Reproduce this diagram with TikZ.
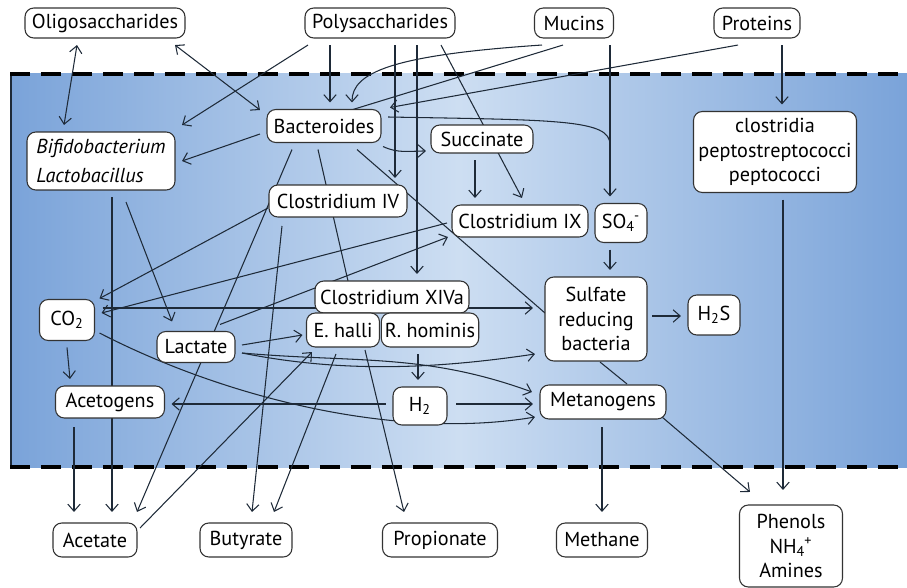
\documentclass[tikz,border=0pt]{standalone}
\usepackage{fontspec}
\setmainfont{PT Sans}
\usetikzlibrary{arrows.meta,calc,positioning}
\definecolor{blueedge}{RGB}{122,163,217}
\definecolor{bluemid}{RGB}{205,222,242}
\definecolor{linecol}{RGB}{30,42,56}
\newcommand{\subsup}[2]{\textsubscript{#1}\kern-0.5pt\textsuperscript{#2}}
\pgfdeclarelayer{back}
\pgfdeclarelayer{lines}
\pgfsetlayers{back,lines,main}
\tikzset{box/.style={draw=black!80, line width=0.6pt, fill=white, rounded corners=5pt,
    inner sep=2pt, outer sep=4pt, align=center, font=\fontsize{11.5}{14}\selectfont},
  sz/.style 2 args={minimum width=#1cm, minimum height=#2cm},
  link/.style={draw=linecol, line width=0.6pt},
  flow/.style={link, -{Straight Barb[length=4pt,width=7pt]}},
  twoway/.style={link, {Straight Barb[length=4pt,width=7pt]}-{Straight Barb[length=4pt,width=7pt]}},
  wall/.style={line width=2pt, dash pattern=on 0.4cm off 0.22cm}}

\begin{document}
\begin{tikzpicture}[x=0.02cm,y=-0.02cm]
    \useasboundingbox (0,0) rectangle (907,588);
    \begin{pgfonlayer}{back}
        \shade[left color=blueedge, right color=blueedge, middle color=bluemid] (10,74) rectangle (907,467);
        \draw[linecol, line width=0.8pt] (11,74) -- (11,467);
        \draw[wall] (10,74) -- (907,74);
        \draw[wall] (10,467) -- (907,467);
    \end{pgfonlayer}

    \node[box, sz={3.2}{0.6}] (oligo) at (105,23) {Oligosaccharides};
    \node[box, sz={3.0}{0.6}] (poly) at (380,23) {Polysaccharides};
    \node[box, sz={1.58}{0.6}] (mucins) at (574,23) {Mucins};
    \node[box, sz={1.72}{0.6}] (proteins) at (757,23) {Proteins};

    \node[box, sz={2.28}{0.66}] (bact) at (324,126) {Bacteroides};
    \node[box, sz={2.96}{1.16}, align=left, font=\fontsize{11.5}{16}\selectfont\itshape] (bifido) at (101,161) {Bifidobacterium\\Lactobacillus};
    \node[box, sz={2.04}{0.56}] (succ) at (482,139) {Succinate};
    \node[box, sz={2.76}{0.64}] (clIV) at (338,201) {Clostridium IV};
    \node[box, sz={2.72}{0.64}] (clIX) at (520,221) {Clostridium IX};
    \node[box, sz={1.04}{0.78}] (so4) at (621,223) {SO\subsup{4}{-}};
    \node[box, sz={3.26}{1.62}] (clostridia) at (775,152) {clostridia\\peptostreptococci\\peptococci};
    \node[box, sz={2.04}{1.68}] (srb) at (596,319) {Sulfate\\reducing\\bacteria};
    \node[box, sz={1.04}{0.8}] (hs) at (714,315) {H\textsubscript{2}S};
    \node[box, sz={3.08}{0.64}] (clXIVa) at (392,297) {Clostridium XIVa};
    \node[box, sz={1.46}{0.68}] (ehalli) at (343,330) {E. halli};
    \node[box, sz={1.92}{0.68}] (rhominis) at (430,330) {R. hominis};
    \node[box, sz={1.08}{0.76}] (htwo) at (420,406) {H\textsubscript{2}};
    \node[box, sz={2.52}{0.68}] (metan) at (603,402) {Metanogens};
    \node[box, sz={1.1}{0.82}] (co) at (67,320) {CO\textsubscript{2}};
    \node[box, sz={1.56}{0.62}] (lactate) at (196,347) {Lactate};
    \node[box, sz={2.18}{0.64}] (acetogens) at (110,402) {Acetogens};

    \node[box, sz={1.68}{0.68}] (acetate) at (95,540) {Acetate};
    \node[box, sz={1.84}{0.68}] (butyrate) at (246,540) {Butyrate};
    \node[box, sz={2.3}{0.68}] (propionate) at (440,540) {Propionate};
    \node[box, sz={1.82}{0.68}] (methane) at (602,540) {Methane};
    \node[box, sz={2.06}{1.64}] (phenols) at (791,546) {Phenols\\NH\subsup{4}{+}\\Amines};

    \begin{pgfonlayer}{lines}
        \draw[twoway] ($(oligo.south)+(-28,0)$) -- ($(bifido.north)+(-37,0)$);
        \draw[twoway] ($(oligo.south east)+(-17,0)$) -- ($(bact.west)+(0,-16)$);
        \draw[flow] ($(poly.south)+(-72,0)$) -- (bifido.north east);
        \draw[flow] ($(poly.south)+(-50,0)$) -- ($(bact.north)+(6,0)$);
        \draw[flow] ($(poly.south)+(15,0)$) -- ($(clIV.north)+(57,0)$);
        \draw[flow] ($(poly.south)+(37,0)$) -- ($(clXIVa.north)+(25,0)$);
        \draw[flow] ($(poly.south)+(61,0)$) -- ($(clIX.north)+(2,0)$);
        \draw[flow] ($(mucins.south)+(-32,0)$) .. controls +(-150,10) and +(0,-30) .. ($(bact.north)+(28,0)$);
        \draw[link] ($(mucins.south)+(-11,0)$) -- ($(bact.north)+(29,7)$);
        \draw[flow] ($(proteins.south)+(-19,0)$) -- ($(bact.north east)+(2,5)$);
        \draw[flow] ($(mucins.south)+(36,0)$) -- ($(so4.north)+(-11,0)$);
        \draw[link] ($(bact.east)+(0,-9)$) .. controls +(170,3) and +(0,-25) .. ($(so4.north)+(-11,-52)$);
        \draw[flow] ($(proteins.south)+(25,0)$) -- ($(clostridia.north)+(7,0)$);
        \draw[flow] ($(bact.west)+(0,8)$) -- (bifido.east);
        \draw[flow] ($(bact.south east)+(-5,-3)$) to[out=-25,in=180] ($(succ.west)+(2,12)$);
        \draw[flow] ($(succ.south)+(-7,0)$) -- ($(clIX.north)+(-45,0)$);
        \draw[flow] ($(bact.south)+(-32,0)$) -- ($(acetate.north)+(42,-4)$);
        \draw[link] ($(bact.south)+(-6,0)$) -- ($(clXIVa.north)+(-44,7)$);
        \draw[link] ($(bact.south)+(33,0)$) -- ($(srb.west)+(7,-6)$);
        \draw[flow] ($(clIV.south)+(-56,2)$) -- ($(butyrate.north)+(6,-4)$);
        \draw[flow] ($(clIV.west)+(6,7)$) -- ($(co.north east)+(-2,6)$);
        \draw[flow] ($(clIX.west)+(2,2)$) -- ($(co.east)+(0,-7)$);
        \draw[flow] ($(lactate.north)+(24,0)$) -- ($(clIX.west)+(3,16)$);
        \draw[flow] ($(co.east)+(1,-12)$) -- ($(srb.west)+(-5,-11)$);
        \draw[flow] (co.south) -- ($(acetogens.north)+(-40,0)$);
        \draw[flow] ($(co.east)+(-2,13)$) .. controls +(130,67) and +(-135,23) .. ($(metan.west)+(2,15)$);
        \draw[flow] ($(bifido.south)+(11,0)$) -- ($(acetate.north)+(17,-4)$);
        \draw[flow] ($(bifido.south)+(25,5)$) -- ($(lactate.north)+(-24,-3)$);
        \draw[flow] ($(acetogens.south)+(-36,2)$) -- ($(acetate.north)+(-21,-4)$);
        \draw[flow] ($(htwo.west)+(0,-2)$) -- ($(acetogens.east)+(0,2)$);
        \draw[flow] ($(htwo.east)+(2,-2)$) -- ($(metan.west)+(0,2)$);
        \draw[flow] ($(rhominis.south)+(-12,0)$) -- ($(htwo.north)+(-2,0)$);
        \draw[flow] ($(so4.south)+(-11,0)$) -- ($(srb.north)+(14,0)$);
        \draw[flow] ($(srb.east)+(-2,-3)$) -- ($(hs.west)+(0,1)$);
        \draw[link] ($(srb.south)+(4,-6)$) -- ($(metan.north)+(24,6)$);
        \draw[flow] ($(metan.south)+(-1,1)$) -- ($(methane.north)+(0,-4)$);
        \draw[flow] ($(metan.east)+(-11,15)$) -- ($(phenols.north)+(-41,-6)$);
        \draw[flow] ($(clostridia.south)+(8,0)$) -- ($(phenols.north)+(-8,-8)$);
        \draw[flow] ($(lactate.east)+(0,-2)$) -- ($(ehalli.west)+(3,5)$);
        \draw[flow] ($(lactate.east)+(0,6)$) .. controls +(100,20) and +(-100,15) .. ($(srb.west)+(-3,35)$);
        \draw[flow] ($(lactate.east)+(0,6)$) to[out=-5,in=160] ($(metan.west)+(-1,-10)$);
        \draw[flow] ($(acetate.east)+(-4,-12)$) -- ($(ehalli.south)+(-31,-2)$);
        \draw[flow] ($(ehalli.south)+(-7,0)$) -- ($(butyrate.north)+(28,-4)$);
        \draw[flow] ($(ehalli.south)+(22,-4)$) -- ($(propionate.north)+(-36,-4)$);
    \end{pgfonlayer}
\end{tikzpicture}
\end{document}
